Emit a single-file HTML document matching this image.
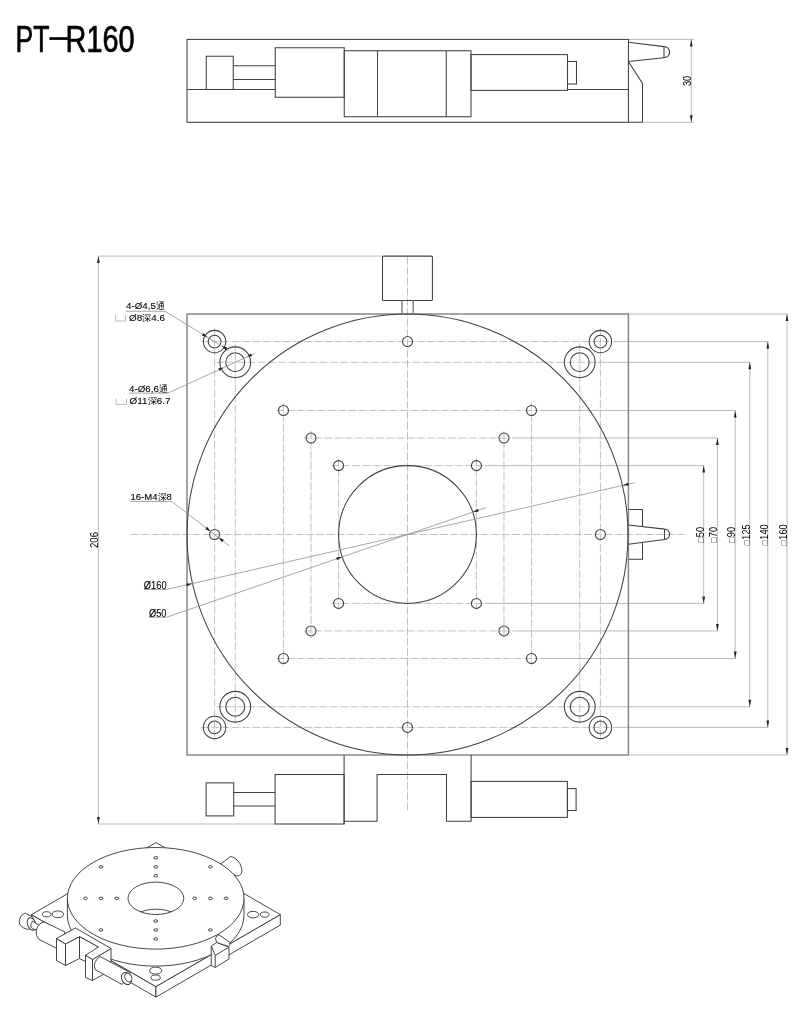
<!DOCTYPE html>
<html><head><meta charset="utf-8"><style>
html,body{margin:0;padding:0;background:#fff;}
svg{display:block;will-change:transform;}
</style></head><body>
<svg width="800" height="1026" viewBox="0 0 800 1026">
<rect width="800" height="1026" fill="#fff"/>
<text x="15.6" y="51.9" font-family="Liberation Sans" font-size="37" fill="#000" stroke="#000" stroke-width="0.7" textLength="34" lengthAdjust="spacingAndGlyphs">PT</text>
<rect x="49.4" y="37.2" width="18.5" height="2.7" fill="#000"/>
<text x="65.6" y="51.9" font-family="Liberation Sans" font-size="37" fill="#000" stroke="#000" stroke-width="0.7" textLength="69" lengthAdjust="spacingAndGlyphs">R160</text>
<rect x="187.00" y="39.40" width="441.40" height="82.90" stroke="#404040" stroke-width="1.05" fill="none" />
<line x1="187.00" y1="89.50" x2="275.25" y2="89.50" stroke="#404040" stroke-width="1.05" fill="none"/>
<line x1="567.50" y1="89.50" x2="628.40" y2="89.50" stroke="#404040" stroke-width="1.05" fill="none"/>
<rect x="206.25" y="56.25" width="27.00" height="33.25" stroke="#404040" stroke-width="1.05" fill="none" />
<line x1="233.25" y1="65.75" x2="275.25" y2="65.75" stroke="#404040" stroke-width="1.05" fill="none"/>
<line x1="233.25" y1="79.50" x2="275.25" y2="79.50" stroke="#404040" stroke-width="1.05" fill="none"/>
<rect x="275.25" y="47.75" width="69.00" height="49.50" stroke="#404040" stroke-width="1.05" fill="none" />
<rect x="344.25" y="50.75" width="126.75" height="66.00" stroke="#404040" stroke-width="1.05" fill="none" />
<line x1="377.50" y1="50.75" x2="377.50" y2="116.75" stroke="#404040" stroke-width="1.05" fill="none"/>
<line x1="446.25" y1="50.75" x2="446.25" y2="116.75" stroke="#404040" stroke-width="1.05" fill="none"/>
<rect x="471.00" y="54.60" width="96.50" height="35.80" stroke="#404040" stroke-width="1.05" fill="none" />
<rect x="567.50" y="61.50" width="9.00" height="22.50" stroke="#404040" stroke-width="1.05" fill="none" />
<path d="M628.4,42.2 L664,46.6 A5.6,5.6 0 0 1 664,57.8 L628.4,61.5" stroke="#404040" stroke-width="1.05" fill="none"/>
<line x1="664.00" y1="46.60" x2="664.00" y2="57.80" stroke="#404040" stroke-width="1.05" fill="none"/>
<path d="M628.4,61.5 L642.5,83.4 L642.5,122.3 L628.4,122.3" stroke="#404040" stroke-width="1.05" fill="none"/>
<line x1="629.00" y1="39.40" x2="694.00" y2="39.40" stroke="#a8a8a8" stroke-width="0.8" fill="none"/>
<line x1="643.00" y1="122.30" x2="694.00" y2="122.30" stroke="#a8a8a8" stroke-width="0.8" fill="none"/>
<line x1="691.30" y1="39.40" x2="691.30" y2="122.30" stroke="#a8a8a8" stroke-width="0.8" fill="none"/>
<polygon points="691.30,39.40 689.90,46.40 692.70,46.40" fill="#222"/>
<polygon points="691.30,122.30 692.70,115.30 689.90,115.30" fill="#222"/>
<text transform="translate(690.80,81.00) rotate(-90) scale(0.92,1)" text-anchor="middle" font-family="Liberation Sans" font-size="10" fill="#000" >30</text>
<line x1="331.60" y1="465.60" x2="483.40" y2="465.60" stroke="#b0b0b0" stroke-width="0.8" fill="none" stroke-dasharray="7.5 1.1 0.6 1.1"/>
<line x1="331.60" y1="603.40" x2="483.40" y2="603.40" stroke="#b0b0b0" stroke-width="0.8" fill="none" stroke-dasharray="7.5 1.1 0.6 1.1"/>
<line x1="338.60" y1="458.60" x2="338.60" y2="610.40" stroke="#b0b0b0" stroke-width="0.8" fill="none" stroke-dasharray="7.5 1.1 0.6 1.1"/>
<line x1="476.40" y1="458.60" x2="476.40" y2="610.40" stroke="#b0b0b0" stroke-width="0.8" fill="none" stroke-dasharray="7.5 1.1 0.6 1.1"/>
<line x1="304.04" y1="438.04" x2="510.96" y2="438.04" stroke="#b0b0b0" stroke-width="0.8" fill="none" stroke-dasharray="7.5 1.1 0.6 1.1"/>
<line x1="304.04" y1="630.96" x2="510.96" y2="630.96" stroke="#b0b0b0" stroke-width="0.8" fill="none" stroke-dasharray="7.5 1.1 0.6 1.1"/>
<line x1="311.04" y1="431.04" x2="311.04" y2="637.96" stroke="#b0b0b0" stroke-width="0.8" fill="none" stroke-dasharray="7.5 1.1 0.6 1.1"/>
<line x1="503.96" y1="431.04" x2="503.96" y2="637.96" stroke="#b0b0b0" stroke-width="0.8" fill="none" stroke-dasharray="7.5 1.1 0.6 1.1"/>
<line x1="276.48" y1="410.48" x2="538.52" y2="410.48" stroke="#b0b0b0" stroke-width="0.8" fill="none" stroke-dasharray="7.5 1.1 0.6 1.1"/>
<line x1="276.48" y1="658.52" x2="538.52" y2="658.52" stroke="#b0b0b0" stroke-width="0.8" fill="none" stroke-dasharray="7.5 1.1 0.6 1.1"/>
<line x1="283.48" y1="403.48" x2="283.48" y2="665.52" stroke="#b0b0b0" stroke-width="0.8" fill="none" stroke-dasharray="7.5 1.1 0.6 1.1"/>
<line x1="531.52" y1="403.48" x2="531.52" y2="665.52" stroke="#b0b0b0" stroke-width="0.8" fill="none" stroke-dasharray="7.5 1.1 0.6 1.1"/>
<line x1="216.75" y1="362.25" x2="598.25" y2="362.25" stroke="#b0b0b0" stroke-width="0.8" fill="none" stroke-dasharray="7.5 1.1 0.6 1.1"/>
<line x1="216.75" y1="706.75" x2="598.25" y2="706.75" stroke="#b0b0b0" stroke-width="0.8" fill="none" stroke-dasharray="7.5 1.1 0.6 1.1"/>
<line x1="235.25" y1="343.75" x2="235.25" y2="725.25" stroke="#b0b0b0" stroke-width="0.8" fill="none" stroke-dasharray="7.5 1.1 0.6 1.1"/>
<line x1="579.75" y1="343.75" x2="579.75" y2="725.25" stroke="#b0b0b0" stroke-width="0.8" fill="none" stroke-dasharray="7.5 1.1 0.6 1.1"/>
<line x1="201.08" y1="341.58" x2="613.92" y2="341.58" stroke="#b0b0b0" stroke-width="0.8" fill="none" stroke-dasharray="7.5 1.1 0.6 1.1"/>
<line x1="201.08" y1="727.42" x2="613.92" y2="727.42" stroke="#b0b0b0" stroke-width="0.8" fill="none" stroke-dasharray="7.5 1.1 0.6 1.1"/>
<line x1="214.58" y1="328.08" x2="214.58" y2="740.92" stroke="#b0b0b0" stroke-width="0.8" fill="none" stroke-dasharray="7.5 1.1 0.6 1.1"/>
<line x1="600.42" y1="328.08" x2="600.42" y2="740.92" stroke="#b0b0b0" stroke-width="0.8" fill="none" stroke-dasharray="7.5 1.1 0.6 1.1"/>
<line x1="131.00" y1="534.50" x2="686.00" y2="534.50" stroke="#b0b0b0" stroke-width="0.8" fill="none" stroke-dasharray="7.5 1.1 0.6 1.1"/>
<line x1="407.50" y1="257.00" x2="407.50" y2="811.00" stroke="#b0b0b0" stroke-width="0.8" fill="none" stroke-dasharray="7.5 1.1 0.6 1.1"/>
<line x1="485.00" y1="465.60" x2="704.50" y2="465.60" stroke="#a8a8a8" stroke-width="0.8" fill="none"/>
<line x1="485.00" y1="603.40" x2="704.50" y2="603.40" stroke="#a8a8a8" stroke-width="0.8" fill="none"/>
<line x1="703.70" y1="465.60" x2="703.70" y2="603.40" stroke="#a8a8a8" stroke-width="0.8" fill="none"/>
<polygon points="703.70,465.60 702.30,472.60 705.10,472.60" fill="#222"/>
<polygon points="703.70,603.40 705.10,596.40 702.30,596.40" fill="#222"/>
<line x1="512.50" y1="438.04" x2="718.20" y2="438.04" stroke="#a8a8a8" stroke-width="0.8" fill="none"/>
<line x1="512.50" y1="630.96" x2="718.20" y2="630.96" stroke="#a8a8a8" stroke-width="0.8" fill="none"/>
<line x1="717.40" y1="438.04" x2="717.40" y2="630.96" stroke="#a8a8a8" stroke-width="0.8" fill="none"/>
<polygon points="717.40,438.04 716.00,445.04 718.80,445.04" fill="#222"/>
<polygon points="717.40,630.96 718.80,623.96 716.00,623.96" fill="#222"/>
<line x1="539.50" y1="410.48" x2="736.00" y2="410.48" stroke="#a8a8a8" stroke-width="0.8" fill="none"/>
<line x1="539.50" y1="658.52" x2="736.00" y2="658.52" stroke="#a8a8a8" stroke-width="0.8" fill="none"/>
<line x1="735.20" y1="410.48" x2="735.20" y2="658.52" stroke="#a8a8a8" stroke-width="0.8" fill="none"/>
<polygon points="735.20,410.48 733.80,417.48 736.60,417.48" fill="#222"/>
<polygon points="735.20,658.52 736.60,651.52 733.80,651.52" fill="#222"/>
<line x1="598.00" y1="362.25" x2="750.60" y2="362.25" stroke="#a8a8a8" stroke-width="0.8" fill="none"/>
<line x1="598.00" y1="706.75" x2="750.60" y2="706.75" stroke="#a8a8a8" stroke-width="0.8" fill="none"/>
<line x1="749.80" y1="362.25" x2="749.80" y2="706.75" stroke="#a8a8a8" stroke-width="0.8" fill="none"/>
<polygon points="749.80,362.25 748.40,369.25 751.20,369.25" fill="#222"/>
<polygon points="749.80,706.75 751.20,699.75 748.40,699.75" fill="#222"/>
<line x1="614.00" y1="341.58" x2="768.60" y2="341.58" stroke="#a8a8a8" stroke-width="0.8" fill="none"/>
<line x1="614.00" y1="727.42" x2="768.60" y2="727.42" stroke="#a8a8a8" stroke-width="0.8" fill="none"/>
<line x1="767.80" y1="341.58" x2="767.80" y2="727.42" stroke="#a8a8a8" stroke-width="0.8" fill="none"/>
<polygon points="767.80,341.58 766.40,348.58 769.20,348.58" fill="#222"/>
<polygon points="767.80,727.42 769.20,720.42 766.40,720.42" fill="#222"/>
<line x1="629.00" y1="314.02" x2="787.80" y2="314.02" stroke="#a8a8a8" stroke-width="0.8" fill="none"/>
<line x1="629.00" y1="754.98" x2="787.80" y2="754.98" stroke="#a8a8a8" stroke-width="0.8" fill="none"/>
<line x1="787.00" y1="314.02" x2="787.00" y2="754.98" stroke="#a8a8a8" stroke-width="0.8" fill="none"/>
<polygon points="787.00,314.02 785.60,321.02 788.40,321.02" fill="#222"/>
<polygon points="787.00,754.98 788.40,747.98 785.60,747.98" fill="#222"/>
<rect x="187.00" y="314.00" width="441.40" height="441.00" stroke="#888" stroke-width="1.5" fill="none" />
<circle cx="407.50" cy="534.50" r="220.50" stroke="#404040" stroke-width="1.05" fill="none"/>
<circle cx="407.50" cy="534.50" r="68.90" stroke="#404040" stroke-width="1.05" fill="none"/>
<circle cx="214.58" cy="341.58" r="11.20" stroke="#404040" stroke-width="1.05" fill="none"/>
<circle cx="214.58" cy="341.58" r="6.40" stroke="#404040" stroke-width="1.05" fill="none"/>
<circle cx="235.25" cy="362.25" r="15.40" stroke="#404040" stroke-width="1.05" fill="none"/>
<circle cx="235.25" cy="362.25" r="9.50" stroke="#404040" stroke-width="1.05" fill="none"/>
<circle cx="338.60" cy="465.60" r="5.00" stroke="#404040" stroke-width="1.05" fill="none"/>
<circle cx="311.04" cy="438.04" r="5.00" stroke="#404040" stroke-width="1.05" fill="none"/>
<circle cx="283.48" cy="410.48" r="5.00" stroke="#404040" stroke-width="1.05" fill="none"/>
<circle cx="214.58" cy="727.42" r="11.20" stroke="#404040" stroke-width="1.05" fill="none"/>
<circle cx="214.58" cy="727.42" r="6.40" stroke="#404040" stroke-width="1.05" fill="none"/>
<circle cx="235.25" cy="706.75" r="15.40" stroke="#404040" stroke-width="1.05" fill="none"/>
<circle cx="235.25" cy="706.75" r="9.50" stroke="#404040" stroke-width="1.05" fill="none"/>
<circle cx="338.60" cy="603.40" r="5.00" stroke="#404040" stroke-width="1.05" fill="none"/>
<circle cx="311.04" cy="630.96" r="5.00" stroke="#404040" stroke-width="1.05" fill="none"/>
<circle cx="283.48" cy="658.52" r="5.00" stroke="#404040" stroke-width="1.05" fill="none"/>
<circle cx="600.42" cy="341.58" r="11.20" stroke="#404040" stroke-width="1.05" fill="none"/>
<circle cx="600.42" cy="341.58" r="6.40" stroke="#404040" stroke-width="1.05" fill="none"/>
<circle cx="579.75" cy="362.25" r="15.40" stroke="#404040" stroke-width="1.05" fill="none"/>
<circle cx="579.75" cy="362.25" r="9.50" stroke="#404040" stroke-width="1.05" fill="none"/>
<circle cx="476.40" cy="465.60" r="5.00" stroke="#404040" stroke-width="1.05" fill="none"/>
<circle cx="503.96" cy="438.04" r="5.00" stroke="#404040" stroke-width="1.05" fill="none"/>
<circle cx="531.52" cy="410.48" r="5.00" stroke="#404040" stroke-width="1.05" fill="none"/>
<circle cx="600.42" cy="727.42" r="11.20" stroke="#404040" stroke-width="1.05" fill="none"/>
<circle cx="600.42" cy="727.42" r="6.40" stroke="#404040" stroke-width="1.05" fill="none"/>
<circle cx="579.75" cy="706.75" r="15.40" stroke="#404040" stroke-width="1.05" fill="none"/>
<circle cx="579.75" cy="706.75" r="9.50" stroke="#404040" stroke-width="1.05" fill="none"/>
<circle cx="476.40" cy="603.40" r="5.00" stroke="#404040" stroke-width="1.05" fill="none"/>
<circle cx="503.96" cy="630.96" r="5.00" stroke="#404040" stroke-width="1.05" fill="none"/>
<circle cx="531.52" cy="658.52" r="5.00" stroke="#404040" stroke-width="1.05" fill="none"/>
<circle cx="600.42" cy="534.50" r="5.00" stroke="#404040" stroke-width="1.05" fill="none"/>
<circle cx="214.58" cy="534.50" r="5.00" stroke="#404040" stroke-width="1.05" fill="none"/>
<circle cx="407.50" cy="727.42" r="5.00" stroke="#404040" stroke-width="1.05" fill="none"/>
<circle cx="407.50" cy="341.58" r="5.00" stroke="#404040" stroke-width="1.05" fill="none"/>
<rect x="382.50" y="256.10" width="49.90" height="44.30" stroke="#404040" stroke-width="1.05" fill="none" rx="1"/>
<line x1="402.00" y1="300.40" x2="402.00" y2="314.00" stroke="#888" stroke-width="1.5" fill="none"/>
<line x1="413.20" y1="300.40" x2="413.20" y2="314.00" stroke="#888" stroke-width="1.5" fill="none"/>
<path d="M628.5,509.5 L642.5,509.5 L642.5,526.6" stroke="#404040" stroke-width="1.05" fill="none"/>
<path d="M628.5,559.3 L642.5,559.3 L642.5,542.6" stroke="#404040" stroke-width="1.05" fill="none"/>
<path d="M628.5,525 L664.5,529.1 A5.2,5.2 0 0 1 664.5,539.5 L628.5,544.2" stroke="#404040" stroke-width="1.05" fill="none"/>
<line x1="664.50" y1="529.10" x2="664.50" y2="539.50" stroke="#404040" stroke-width="1.05" fill="none"/>
<line x1="344.10" y1="755.00" x2="344.10" y2="824.00" stroke="#404040" stroke-width="1.05" fill="none"/>
<rect x="275.10" y="774.50" width="69.00" height="49.50" stroke="#404040" stroke-width="1.05" fill="none" />
<rect x="206.10" y="782.90" width="27.60" height="33.00" stroke="#404040" stroke-width="1.05" fill="none" />
<line x1="233.70" y1="792.50" x2="275.10" y2="792.50" stroke="#404040" stroke-width="1.05" fill="none"/>
<line x1="233.70" y1="806.00" x2="275.10" y2="806.00" stroke="#404040" stroke-width="1.05" fill="none"/>
<path d="M344.1,821.25 L377.1,821.25 L377.1,774.5 L446.5,774.5 L446.5,821.25 L471.1,821.25 L471.1,755" stroke="#404040" stroke-width="1.05" fill="none"/>
<rect x="471.10" y="781.40" width="96.30" height="36.00" stroke="#404040" stroke-width="1.05" fill="none" />
<rect x="567.40" y="788.60" width="8.70" height="21.90" stroke="#404040" stroke-width="1.05" fill="none" />
<line x1="98.40" y1="256.10" x2="382.00" y2="256.10" stroke="#a8a8a8" stroke-width="0.8" fill="none"/>
<line x1="98.40" y1="824.00" x2="275.00" y2="824.00" stroke="#a8a8a8" stroke-width="0.8" fill="none"/>
<line x1="98.40" y1="256.10" x2="98.40" y2="824.00" stroke="#a8a8a8" stroke-width="0.8" fill="none"/>
<polygon points="98.40,256.10 97.00,263.10 99.80,263.10" fill="#222"/>
<polygon points="98.40,824.00 99.80,817.00 97.00,817.00" fill="#222"/>
<text transform="translate(97.90,540.00) rotate(-90) scale(0.97,1)" text-anchor="middle" font-family="Liberation Sans" font-size="10" fill="#000" >206</text>
<text transform="translate(703.50,534.80) rotate(-90) scale(0.92,1)" text-anchor="middle" font-family="Liberation Sans" font-size="10" fill="#000" ><tspan font-size="9">□</tspan><tspan dx="0.6">50</tspan></text>
<text transform="translate(717.20,534.80) rotate(-90) scale(0.92,1)" text-anchor="middle" font-family="Liberation Sans" font-size="10" fill="#000" ><tspan font-size="9">□</tspan><tspan dx="0.6">70</tspan></text>
<text transform="translate(735.00,534.80) rotate(-90) scale(0.92,1)" text-anchor="middle" font-family="Liberation Sans" font-size="10" fill="#000" ><tspan font-size="9">□</tspan><tspan dx="0.6">90</tspan></text>
<text transform="translate(749.60,534.80) rotate(-90) scale(0.92,1)" text-anchor="middle" font-family="Liberation Sans" font-size="10" fill="#000" ><tspan font-size="9">□</tspan><tspan dx="0.6">125</tspan></text>
<text transform="translate(767.60,534.80) rotate(-90) scale(0.92,1)" text-anchor="middle" font-family="Liberation Sans" font-size="10" fill="#000" ><tspan font-size="9">□</tspan><tspan dx="0.6">140</tspan></text>
<text transform="translate(786.80,534.80) rotate(-90) scale(0.92,1)" text-anchor="middle" font-family="Liberation Sans" font-size="10" fill="#000" ><tspan font-size="9">□</tspan><tspan dx="0.6">160</tspan></text>
<text x="126" y="309.2" font-family="Liberation Sans" font-size="9.6" fill="#000" stroke="#000" stroke-width="0.1" textLength="39" lengthAdjust="spacingAndGlyphs">4-Ø4,5<tspan font-size="8.64" stroke-width="0">通</tspan></text>
<line x1="126.00" y1="311.25" x2="165.00" y2="311.25" stroke="#909090" stroke-width="0.8" fill="none"/>
<line x1="165.00" y1="311.25" x2="229.25" y2="350.56" stroke="#909090" stroke-width="0.8" fill="none"/>
<polygon points="207.37,337.17 203.46,333.02 201.90,335.58" fill="#222"/>
<polygon points="221.79,345.99 225.70,350.14 227.26,347.58" fill="#222"/>
<text x="129" y="321.3" font-family="Liberation Sans" font-size="9.6" fill="#000" stroke="#000" stroke-width="0.1" textLength="36" lengthAdjust="spacingAndGlyphs">Ø8<tspan font-size="8.64" stroke-width="0">深</tspan>4.6</text>
<path d="M115.6,315 L115.6,321 L125.6,321 L125.6,315" stroke="#aaa" stroke-width="0.8" fill="none"/>
<text x="129" y="391.7" font-family="Liberation Sans" font-size="9.6" fill="#000" stroke="#000" stroke-width="0.1" textLength="39" lengthAdjust="spacingAndGlyphs">4-Ø6,6<tspan font-size="8.64" stroke-width="0">通</tspan></text>
<line x1="129.00" y1="393.10" x2="168.00" y2="393.10" stroke="#909090" stroke-width="0.8" fill="none"/>
<line x1="168.00" y1="393.10" x2="254.70" y2="353.33" stroke="#909090" stroke-width="0.8" fill="none"/>
<polygon points="223.52,367.63 218.35,368.35 219.61,371.08" fill="#222"/>
<polygon points="246.98,356.87 252.15,356.15 250.89,353.42" fill="#222"/>
<text x="129.6" y="404.2" font-family="Liberation Sans" font-size="9.6" fill="#000" stroke="#000" stroke-width="0.1" textLength="41" lengthAdjust="spacingAndGlyphs">Ø11<tspan font-size="8.64" stroke-width="0">深</tspan>6.7</text>
<path d="M116,398.5 L116,404.4 L126.5,404.4 L126.5,398.5" stroke="#aaa" stroke-width="0.8" fill="none"/>
<text x="130.5" y="500.4" font-family="Liberation Sans" font-size="9.8" fill="#000" stroke="#000" stroke-width="0.1" textLength="41.3" lengthAdjust="spacingAndGlyphs">16-M4<tspan font-size="8.82" stroke-width="0">深</tspan>8</text>
<line x1="130.50" y1="501.50" x2="171.80" y2="501.50" stroke="#909090" stroke-width="0.8" fill="none"/>
<line x1="171.80" y1="501.50" x2="229.62" y2="546.10" stroke="#909090" stroke-width="0.8" fill="none"/>
<polygon points="210.62,531.45 207.24,526.82 205.29,529.35" fill="#222"/>
<polygon points="218.54,537.55 221.92,542.18 223.87,539.65" fill="#222"/>
<text x="143.8" y="588.9" font-family="Liberation Sans" font-size="10" fill="#000" stroke="#000" stroke-width="0.1" textLength="22.8" lengthAdjust="spacingAndGlyphs">Ø160</text>
<line x1="143.80" y1="589.50" x2="166.30" y2="589.50" stroke="#909090" stroke-width="0.8" fill="none"/>
<line x1="166.30" y1="589.50" x2="635.16" y2="482.59" stroke="#909090" stroke-width="0.8" fill="none"/>
<polygon points="192.52,583.52 186.36,583.49 186.98,586.22" fill="#222"/>
<polygon points="622.48,485.48 628.64,485.51 628.02,482.78" fill="#222"/>
<text x="149" y="616.8" font-family="Liberation Sans" font-size="10" fill="#000" stroke="#000" stroke-width="0.1" textLength="17.5" lengthAdjust="spacingAndGlyphs">Ø50</text>
<line x1="149.00" y1="617.30" x2="166.30" y2="617.30" stroke="#909090" stroke-width="0.8" fill="none"/>
<line x1="166.30" y1="617.30" x2="485.91" y2="507.58" stroke="#909090" stroke-width="0.8" fill="none"/>
<polygon points="342.33,556.87 336.20,557.49 337.11,560.14" fill="#222"/>
<polygon points="472.67,512.13 478.80,511.51 477.89,508.86" fill="#222"/>
<polygon points="31.50,914.60 155.90,986.60 155.90,997.10 31.50,925.10" stroke="#333" stroke-width="0.9" fill="#fff" stroke-linejoin="round"/>
<polygon points="155.90,986.60 280.30,914.60 280.30,925.10 155.90,997.10" stroke="#333" stroke-width="0.9" fill="#fff" stroke-linejoin="round"/>
<polygon points="155.90,842.60 280.30,914.60 155.90,986.60 31.50,914.60" stroke="#333" stroke-width="0.9" fill="#fff" stroke-linejoin="round"/>
<ellipse cx="46.6" cy="914.3" rx="4.3" ry="2.6" stroke="#333" stroke-width="0.9" fill="none" stroke-linejoin="round"/>
<ellipse cx="57.8" cy="914.3" rx="5.8" ry="3.4" stroke="#333" stroke-width="0.9" fill="none" stroke-linejoin="round"/>
<ellipse cx="253.1" cy="914.6" rx="5.6" ry="3.3" stroke="#333" stroke-width="0.9" fill="none" stroke-linejoin="round"/>
<ellipse cx="264.75" cy="914.6" rx="4.4" ry="2.6" stroke="#333" stroke-width="0.9" fill="none" stroke-linejoin="round"/>
<ellipse cx="155.6" cy="970.6" rx="6.2" ry="3.5" stroke="#333" stroke-width="0.9" fill="none" stroke-linejoin="round"/>
<ellipse cx="155.6" cy="977.6" rx="4.7" ry="2.6" stroke="#333" stroke-width="0.9" fill="none" stroke-linejoin="round"/>
<path d="M218,866 L230.6,856.5 A6.5,10.5 -35 0 1 236.5,876 Z" stroke="#333" stroke-width="0.9" fill="#fff" stroke-linejoin="round"/>
<path d="M67.39999999999999,898.3 L67.39999999999999,915.3 A88.3,50.8 0 0 0 244.0,915.3 L244.0,898.3 Z" stroke="#333" stroke-width="0.9" fill="#fff" stroke-linejoin="round"/>
<ellipse cx="155.7" cy="898.3" rx="88.3" ry="50.8" stroke="#333" stroke-width="0.9" fill="#fff" stroke-linejoin="round"/>
<clipPath id="hc"><ellipse cx="155.9" cy="898.3" rx="27.9" ry="16.2"/></clipPath>
<ellipse cx="155.9" cy="898.3" rx="27.9" ry="16.2" stroke="#333" stroke-width="0.9" fill="none" stroke-linejoin="round"/>
<ellipse cx="155.9" cy="925.4" rx="27.9" ry="16.2" stroke="#333" stroke-width="0.9" fill="none" stroke-linejoin="round" clip-path="url(#hc)"/>
<ellipse cx="155.70" cy="875.80" rx="1.9" ry="1.25" stroke="#333" stroke-width="0.9" fill="none" stroke-linejoin="round"/>
<ellipse cx="155.70" cy="866.80" rx="1.9" ry="1.25" stroke="#333" stroke-width="0.9" fill="none" stroke-linejoin="round"/>
<ellipse cx="155.70" cy="857.80" rx="1.9" ry="1.25" stroke="#333" stroke-width="0.9" fill="none" stroke-linejoin="round"/>
<ellipse cx="155.70" cy="921.00" rx="1.9" ry="1.25" stroke="#333" stroke-width="0.9" fill="none" stroke-linejoin="round"/>
<ellipse cx="155.70" cy="930.00" rx="1.9" ry="1.25" stroke="#333" stroke-width="0.9" fill="none" stroke-linejoin="round"/>
<ellipse cx="155.70" cy="939.00" rx="1.9" ry="1.25" stroke="#333" stroke-width="0.9" fill="none" stroke-linejoin="round"/>
<ellipse cx="194.70" cy="898.30" rx="1.9" ry="1.25" stroke="#333" stroke-width="0.9" fill="none" stroke-linejoin="round"/>
<ellipse cx="210.40" cy="898.30" rx="1.9" ry="1.25" stroke="#333" stroke-width="0.9" fill="none" stroke-linejoin="round"/>
<ellipse cx="226.00" cy="898.30" rx="1.9" ry="1.25" stroke="#333" stroke-width="0.9" fill="none" stroke-linejoin="round"/>
<ellipse cx="116.70" cy="898.30" rx="1.9" ry="1.25" stroke="#333" stroke-width="0.9" fill="none" stroke-linejoin="round"/>
<ellipse cx="101.00" cy="898.30" rx="1.9" ry="1.25" stroke="#333" stroke-width="0.9" fill="none" stroke-linejoin="round"/>
<ellipse cx="85.40" cy="898.30" rx="1.9" ry="1.25" stroke="#333" stroke-width="0.9" fill="none" stroke-linejoin="round"/>
<ellipse cx="210.40" cy="866.80" rx="1.9" ry="1.25" stroke="#333" stroke-width="0.9" fill="none" stroke-linejoin="round"/>
<ellipse cx="101.00" cy="866.80" rx="1.9" ry="1.25" stroke="#333" stroke-width="0.9" fill="none" stroke-linejoin="round"/>
<ellipse cx="210.40" cy="930.00" rx="1.9" ry="1.25" stroke="#333" stroke-width="0.9" fill="none" stroke-linejoin="round"/>
<ellipse cx="101.00" cy="930.00" rx="1.9" ry="1.25" stroke="#333" stroke-width="0.9" fill="none" stroke-linejoin="round"/>
<polygon points="211.25,946.10 216.60,942.40 229.00,947.20 229.00,959.00 215.20,967.50 211.25,965.50" stroke="#333" stroke-width="0.9" fill="#fff" stroke-linejoin="round"/>
<polyline points="211.25,946.10 215.20,955.40 229.00,947.20" stroke="#333" stroke-width="0.9" fill="none" stroke-linejoin="round"/>
<line x1="215.20" y1="955.40" x2="215.20" y2="967.50" stroke="#333" stroke-width="0.9" fill="none" stroke-linejoin="round"/>
<path d="M216.6,942.4 L215.5,938.5 Q216,935.5 219.1,934.8 L229.8,942.4 Q230.5,945.5 228.5,946.5 Z" stroke="#333" stroke-width="0.9" fill="#fff" stroke-linejoin="round"/>
<path d="M25.5,913.25 L33,917.2 L33.5,928 L27.25,929.4 Q19,927 19.2,921.5 Q20,914.5 25.5,913.25 Z" stroke="#333" stroke-width="0.9" fill="#fff" stroke-linejoin="round"/>
<ellipse cx="31.6" cy="924" rx="4.1" ry="6.5" transform="rotate(-22 31.6 924)" stroke="#333" stroke-width="0.9" fill="#fff" stroke-linejoin="round"/>
<path d="M32.5,921.1 L39.5,925.5 L36.9,930.3 L32.5,928.6 Q29,926.5 32.5,921.1 Z" stroke="#333" stroke-width="0.9" fill="#fff" stroke-linejoin="round"/>
<path d="M44.1,921.9 L65.1,932 L59,949.5 L38.9,939.4 Q35.5,936 36.2,930.6 Q38,923 44.1,921.9 Z" stroke="#333" stroke-width="0.9" fill="#fff" stroke-linejoin="round"/>
<polygon points="56.50,938.50 65.50,944.00 65.50,965.50 56.50,960.50" stroke="#333" stroke-width="0.9" fill="#fff" stroke-linejoin="round"/>
<polygon points="65.50,944.00 79.50,936.50 79.50,958.50 65.50,965.50" stroke="#333" stroke-width="0.9" fill="#fff" stroke-linejoin="round"/>
<polygon points="79.50,936.50 98.50,947.00 98.50,962.00 85.50,961.50 79.50,958.50" stroke="#333" stroke-width="0.9" fill="#fff" stroke-linejoin="round"/>
<polygon points="92.50,959.50 111.00,948.50 111.00,961.00 103.00,974.50 92.50,980.50" stroke="#333" stroke-width="0.9" fill="#fff" stroke-linejoin="round"/>
<polygon points="85.50,955.20 92.50,959.50 92.50,980.50 85.50,977.50" stroke="#333" stroke-width="0.9" fill="#fff" stroke-linejoin="round"/>
<polygon points="56.50,938.50 75.50,928.00 111.00,948.50 92.50,959.50 85.50,955.20 98.50,947.00 79.50,936.50 65.50,944.00" stroke="#333" stroke-width="0.9" fill="#fff" stroke-linejoin="round"/>
<path d="M100,956.5 L130.5,972.8 L122,984.5 L95,969.5 Q92.5,962 100,956.5 Z" stroke="#333" stroke-width="0.9" fill="#fff" stroke-linejoin="round"/>
<ellipse cx="126.5" cy="978.5" rx="4.8" ry="6.3" transform="rotate(-28 126.5 978.5)" stroke="#333" stroke-width="0.9" fill="#fff" stroke-linejoin="round"/>
<ellipse cx="128.3" cy="977.6" rx="3.3" ry="4.6" transform="rotate(-28 128.3 977.6)" stroke="#333" stroke-width="0.9" fill="#fff" stroke-linejoin="round"/>
</svg>
</body></html>
